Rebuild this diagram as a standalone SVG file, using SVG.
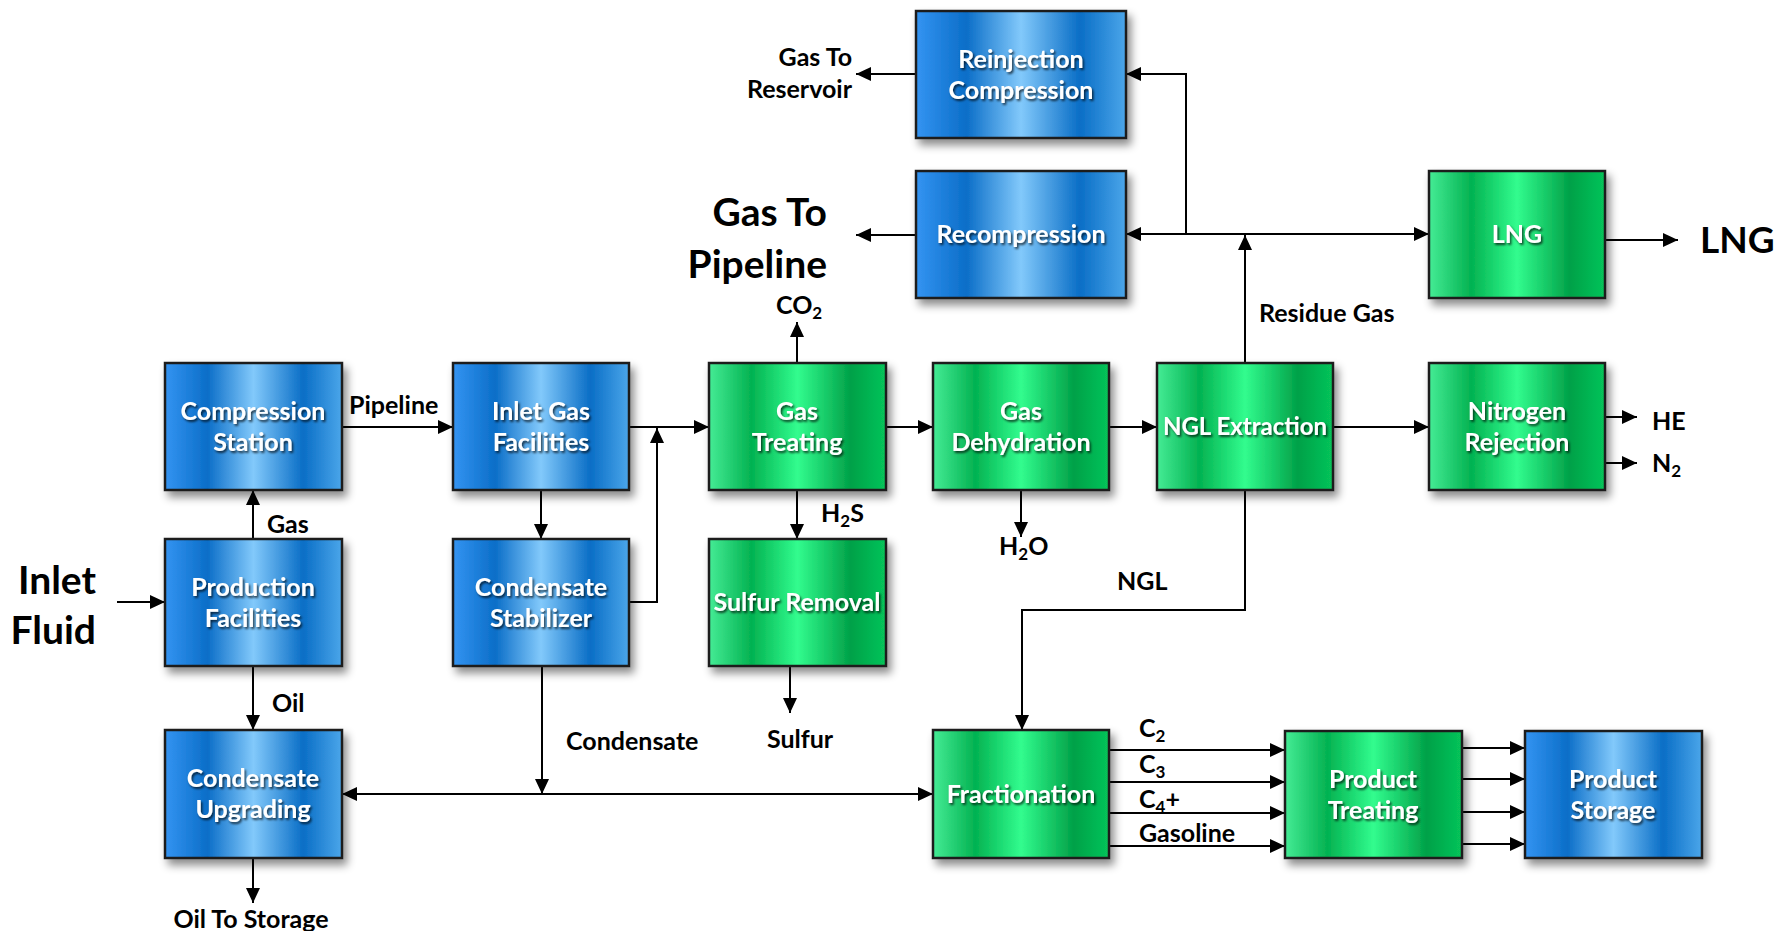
<svg xmlns="http://www.w3.org/2000/svg" width="1774" height="931" viewBox="0 0 1774 931">
<defs>
<linearGradient id="gBlue" x1="0" y1="0" x2="1" y2="0">
<stop offset="0" stop-color="#3494f2"/>
<stop offset="0.24" stop-color="#0b6ec8"/>
<stop offset="0.5" stop-color="#82c9fb"/>
<stop offset="0.78" stop-color="#0a6ec6"/>
<stop offset="1" stop-color="#4ba6ea"/>
</linearGradient>
<linearGradient id="gGreen" x1="0" y1="0" x2="1" y2="0">
<stop offset="0" stop-color="#45ec95"/>
<stop offset="0.24" stop-color="#03b251"/>
<stop offset="0.5" stop-color="#32fc8e"/>
<stop offset="0.8" stop-color="#01a148"/>
<stop offset="1" stop-color="#07c45a"/>
</linearGradient>
<filter id="boxShadow" x="-10%" y="-10%" width="125%" height="130%">
<feDropShadow dx="4" dy="6" stdDeviation="4" flood-color="#000" flood-opacity="0.45"/>
</filter>
<filter id="txtShadow" x="-10%" y="-30%" width="120%" height="170%">
<feDropShadow dx="1.5" dy="2" stdDeviation="1.2" flood-color="#000" flood-opacity="0.7"/>
</filter>
<marker id="arr" viewBox="0 0 15 14" refX="15" refY="7" markerWidth="15" markerHeight="14" markerUnits="userSpaceOnUse" orient="auto-start-reverse">
<path d="M0,0 L15,7 L0,14 z" fill="#000"/>
</marker>
<style>
.box rect{stroke:#1e1e1e;stroke-width:2.5;filter:url(#boxShadow)}
.blue rect{fill:url(#gBlue)}
.green rect{fill:url(#gGreen)}
.box text{font-family:Lato,"Liberation Sans",sans-serif;font-weight:bold;font-size:25px;fill:#fff;text-anchor:middle;filter:url(#txtShadow)}
.box text.tight{font-size:24px}
.conn path{fill:none;stroke:#000;stroke-width:2;marker-end:url(#arr)}
.conn path.both{marker-start:url(#arr)}
.lbl{font-family:Lato,"Liberation Sans",sans-serif;font-weight:bold;font-size:25px;fill:#000}
.big{font-family:Lato,"Liberation Sans",sans-serif;font-weight:bold;font-size:39px;fill:#000}
.sub{font-size:17px}
</style>
</defs>
<rect width="1774" height="931" fill="#fff"/>

<g id="connectors" class="conn">
<path d="M117,602 H165"/>
<path d="M253,539 V490"/>
<path d="M342,427 H453"/>
<path d="M541,490 V539"/>
<path d="M629,602 H657 V428"/>
<path d="M629,427 H709"/>
<path d="M797,363 V322"/>
<path d="M797,490 V539"/>
<path d="M790,666 V713"/>
<path d="M886,427 H933"/>
<path d="M1021,490 V537"/>
<path d="M1109,427 H1157"/>
<path d="M1333,427 H1429"/>
<path d="M1605,417 H1637"/>
<path d="M1605,463 H1637"/>
<path d="M1245,363 V235"/>
<path class="both" d="M1126,234 H1429"/>
<path d="M1186,234 V74 H1126"/>
<path d="M916,74 H856"/>
<path d="M916,235 H856"/>
<path d="M1605,240 H1678"/>
<path d="M1245,490 V610 H1022 V730"/>
<path d="M253,666 V730"/>
<path d="M253,858 V903"/>
<path d="M542,666 V794"/>
<path class="both" d="M342,794 H933"/>
<path d="M1109,750 H1285"/>
<path d="M1109,782 H1285"/>
<path d="M1109,813 H1285"/>
<path d="M1109,846 H1285"/>
<path d="M1462,748 H1525"/>
<path d="M1462,779 H1525"/>
<path d="M1462,812 H1525"/>
<path d="M1462,844 H1525"/>
</g>

<g id="reinjection" class="box blue"><rect x="916" y="11" width="210" height="127"/><text x="1021" y="68">Reinjection</text><text x="1021" y="99">Compression</text></g>
<g id="recompression" class="box blue"><rect x="916" y="171" width="210" height="127"/><text x="1021" y="243">Recompression</text></g>
<g id="lng" class="box green"><rect x="1429" y="171" width="176" height="127"/><text x="1517" y="243">LNG</text></g>
<g id="compression-station" class="box blue"><rect x="165" y="363" width="177" height="127"/><text x="253" y="420">Compression</text><text x="253" y="451">Station</text></g>
<g id="inlet-gas" class="box blue"><rect x="453" y="363" width="176" height="127"/><text x="541" y="420">Inlet Gas</text><text x="541" y="451">Facilities</text></g>
<g id="gas-treating" class="box green"><rect x="709" y="363" width="177" height="127"/><text x="797" y="420">Gas</text><text x="797" y="451">Treating</text></g>
<g id="gas-dehydration" class="box green"><rect x="933" y="363" width="176" height="127"/><text x="1021" y="420">Gas</text><text x="1021" y="451">Dehydration</text></g>
<g id="ngl-extraction" class="box green"><rect x="1157" y="363" width="176" height="127"/><text class="tight" x="1245" y="435">NGL Extraction</text></g>
<g id="nitrogen-rejection" class="box green"><rect x="1429" y="363" width="176" height="127"/><text x="1517" y="420">Nitrogen</text><text x="1517" y="451">Rejection</text></g>
<g id="production-facilities" class="box blue"><rect x="165" y="539" width="177" height="127"/><text x="253" y="596">Production</text><text x="253" y="627">Facilities</text></g>
<g id="condensate-stabilizer" class="box blue"><rect x="453" y="539" width="176" height="127"/><text x="541" y="596">Condensate</text><text x="541" y="627">Stabilizer</text></g>
<g id="sulfur-removal" class="box green"><rect x="709" y="539" width="177" height="127"/><text x="797" y="611">Sulfur Removal</text></g>
<g id="condensate-upgrading" class="box blue"><rect x="165" y="730" width="177" height="128"/><text x="253" y="787">Condensate</text><text x="253" y="818">Upgrading</text></g>
<g id="fractionation" class="box green"><rect x="933" y="730" width="176" height="128"/><text x="1021" y="803">Fractionation</text></g>
<g id="product-treating" class="box green"><rect x="1285" y="731" width="177" height="127"/><text x="1373" y="788">Product</text><text x="1373" y="819">Treating</text></g>
<g id="product-storage" class="box blue"><rect x="1525" y="731" width="177" height="127"/><text x="1613" y="788">Product</text><text x="1613" y="819">Storage</text></g>

<g id="labels">
<text class="big" x="96" y="594" text-anchor="end">Inlet</text>
<text class="big" x="96" y="644" text-anchor="end">Fluid</text>
<text class="big" x="827" y="226" text-anchor="end">Gas To</text>
<text class="big" x="827" y="278" text-anchor="end">Pipeline</text>
<text class="big" x="1700" y="253" style="font-size:37px">LNG</text>
<text class="lbl" x="852" y="66" text-anchor="end">Gas To</text>
<text class="lbl" x="852" y="98" text-anchor="end">Reservoir</text>
<text class="lbl" x="349" y="414">Pipeline</text>
<text class="lbl" x="267" y="533">Gas</text>
<text class="lbl" x="272" y="712">Oil</text>
<text class="lbl" x="251" y="928" text-anchor="middle">Oil To Storage</text>
<text class="lbl" x="566" y="750">Condensate</text>
<text class="lbl" x="800" y="748" text-anchor="middle">Sulfur</text>
<text class="lbl" x="776" y="314">CO<tspan class="sub" dy="5">2</tspan></text>
<text class="lbl" x="821" y="522">H<tspan class="sub" dy="5">2</tspan><tspan dy="-5">S</tspan></text>
<text class="lbl" x="999" y="555">H<tspan class="sub" dy="5">2</tspan><tspan dy="-5">O</tspan></text>
<text class="lbl" x="1117" y="590">NGL</text>
<text class="lbl" x="1259" y="322">Residue Gas</text>
<text class="lbl" x="1652" y="430">HE</text>
<text class="lbl" x="1652" y="472">N<tspan class="sub" dy="5">2</tspan></text>
<text class="lbl" x="1139" y="737">C<tspan class="sub" dy="5">2</tspan></text>
<text class="lbl" x="1139" y="773">C<tspan class="sub" dy="5">3</tspan></text>
<text class="lbl" x="1139" y="808">C<tspan class="sub" dy="5">4</tspan><tspan dy="-5">+</tspan></text>
<text class="lbl" x="1139" y="842">Gasoline</text>
</g>
</svg>
